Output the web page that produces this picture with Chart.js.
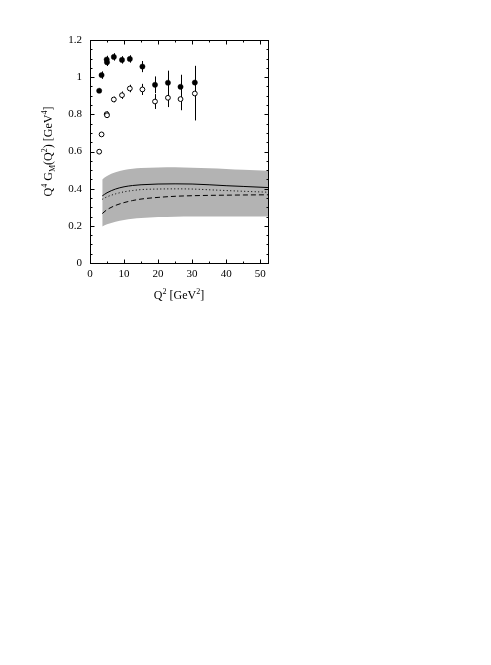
<!DOCTYPE html>
<html>
<head>
<meta charset="utf-8">
<script src="https://cdn.jsdelivr.net/npm/chart.js@4.4.1/dist/chart.umd.min.js"></script>
<style>
  html, body { margin: 0; padding: 0; background: #fff; }
  canvas { display: block; }
</style>
</head>
<body>
<canvas id="chart" width="491" height="665"></canvas>
<script>
// measured points (Q^2 in GeV^2)
const q2Data = [2.7, 3.4, 4.9, 5.0, 7.0, 9.4, 11.7, 15.4, 19.1, 22.9, 26.6, 30.8];
const filledVals = [0.927, 1.011, 1.095, 1.080, 1.109, 1.093, 1.098, 1.057, 0.959, 0.970, 0.948, 0.971];
const filledErr = [0.012, 0.02, 0.02, 0.02, 0.02, 0.02, 0.02, 0.03, 0.045, 0.065, 0.065, 0.09];
const openVals = [0.599, 0.692, 0.801, 0.795, 0.880, 0.903, 0.939, 0.934, 0.869, 0.889, 0.882, 0.912];
const openErr = [0.005, 0.01, 0.015, 0.015, 0.015, 0.02, 0.02, 0.03, 0.04, 0.05, 0.06, 0.145];

// theory curves
const q2Curve = [3.6, 5, 7.5, 10, 12.5, 15, 20, 25, 30, 35, 40, 45, 52.3];
const bandUpper = [0.450, 0.468, 0.488, 0.500, 0.507, 0.511, 0.514, 0.515, 0.513, 0.510, 0.506, 0.502, 0.497];
const bandLower = [0.197, 0.208, 0.222, 0.232, 0.238, 0.242, 0.247, 0.249, 0.250, 0.250, 0.250, 0.250, 0.250];
const solidCurve = [0.361, 0.378, 0.398, 0.410, 0.417, 0.421, 0.425, 0.426, 0.425, 0.421, 0.416, 0.412, 0.406];
const dottedCurve = [0.343, 0.356, 0.372, 0.383, 0.390, 0.395, 0.398, 0.399, 0.398, 0.394, 0.390, 0.386, 0.381];
const dashedCurve = [0.266, 0.287, 0.310, 0.325, 0.336, 0.344, 0.353, 0.359, 0.362, 0.364, 0.365, 0.366, 0.367];

const xMin = 0, xMax = 52.3;
const yMin = 0, yMax = 1.2;

const serif = "'Liberation Serif', 'DejaVu Serif', serif";
const ink = '#000';

function toXY(xs, ys) {
    return xs.map((x, i) => ({ x: x, y: ys[i] }));
}

function curve(ys, dash, extra) {
    return Object.assign({
        type: 'line',
        data: toXY(q2Curve, ys),
        borderColor: ink,
        borderWidth: 1,
        borderDash: dash,
        pointRadius: 0,
        fill: false,
        cubicInterpolationMode: 'monotone',
        order: 5
    }, extra || {});
}

// draws text with super/subscripts, centred on 0,0 (baseline)
function drawRich(ctx, parts, size) {
    const big = size + 'px ' + serif;
    const small = Math.round(size * 0.68) + 'px ' + serif;
    let total = 0;
    parts.forEach(p => {
        ctx.font = p.sup || p.sub ? small : big;
        total += ctx.measureText(p.t).width;
    });
    let x = -total / 2;
    parts.forEach(p => {
        ctx.font = p.sup || p.sub ? small : big;
        const dy = p.sup ? -size * 0.42 : (p.sub ? size * 0.25 : 0);
        ctx.fillText(p.t, x, dy);
        x += ctx.measureText(p.t).width;
    });
}

const xTitle = [{ t: 'Q' }, { t: '2', sup: true }, { t: ' [GeV' }, { t: '2', sup: true }, { t: ']' }];
const yTitle = [{ t: 'Q' }, { t: '4', sup: true }, { t: ' G' }, { t: 'M', sub: true }, { t: '(Q' },
    { t: '2', sup: true }, { t: ') [GeV' }, { t: '4', sup: true }, { t: ']' }];

const isMultiple = (v, step) => Math.abs(v / step - Math.round(v / step)) < 1e-6;

// frame, inward ticks, error bars and titles
const decorations = {
    id: 'decorations',
    beforeDatasetsDraw(chart) {
        const ctx = chart.ctx;
        const xs = chart.scales.x, ys = chart.scales.y;
        ctx.save();
        ctx.strokeStyle = ink;
        ctx.lineWidth = 1;
        const bars = (vals, errs) => {
            vals.forEach((v, i) => {
                const px = Math.round(xs.getPixelForValue(q2Data[i])) + 0.5;
                ctx.beginPath();
                ctx.moveTo(px, ys.getPixelForValue(v - errs[i]));
                ctx.lineTo(px, ys.getPixelForValue(v + errs[i]));
                ctx.stroke();
            });
        };
        bars(openVals, openErr);
        bars(filledVals, filledErr);
        ctx.restore();
    },
    afterDraw(chart) {
        const ctx = chart.ctx;
        const a = chart.chartArea;
        const xs = chart.scales.x, ys = chart.scales.y;
        ctx.save();
        ctx.strokeStyle = ink;
        ctx.lineWidth = 1;
        const L = Math.round(a.left) + 0.5, R = Math.round(a.right) + 0.5;
        const T = Math.round(a.top) + 0.5, B = Math.round(a.bottom) + 0.5;
        ctx.strokeRect(L, T, R - L, B - T);
        ctx.beginPath();
        xs.ticks.forEach(t => {
            const px = Math.round(xs.getPixelForValue(t.value)) + 0.5;
            const len = isMultiple(t.value, 10) ? 4 : 2;
            ctx.moveTo(px, B); ctx.lineTo(px, B - len);
            ctx.moveTo(px, T); ctx.lineTo(px, T + len);
        });
        ys.ticks.forEach(t => {
            const py = Math.round(ys.getPixelForValue(t.value)) + 0.5;
            const len = isMultiple(t.value, 0.2) ? 4 : 2;
            ctx.moveTo(L, py); ctx.lineTo(L + len, py);
            ctx.moveTo(R, py); ctx.lineTo(R - len, py);
        });
        ctx.stroke();

        ctx.fillStyle = ink;
        ctx.textBaseline = 'alphabetic';
        ctx.save();
        ctx.translate((a.left + a.right) / 2, 299);
        drawRich(ctx, xTitle, 12);
        ctx.restore();
        ctx.save();
        ctx.translate(52, (a.top + a.bottom) / 2);
        ctx.rotate(-Math.PI / 2);
        drawRich(ctx, yTitle, 12);
        ctx.restore();
        ctx.restore();
    }
};

new Chart(document.getElementById('chart'), {
    type: 'scatter',
    data: {
        datasets: [
            {
                data: toXY(q2Data, filledVals),
                pointRadius: 2.6,
                pointBackgroundColor: ink,
                pointBorderColor: ink,
                pointBorderWidth: 0.5,
                order: 0
            },
            {
                data: toXY(q2Data, openVals),
                pointRadius: 2.4,
                pointBackgroundColor: '#fff',
                pointBorderColor: ink,
                pointBorderWidth: 1,
                order: 1
            },
            curve(solidCurve, []),
            curve(dottedCurve, [1, 2.5]),
            curve(dashedCurve, [5, 3]),
            curve(bandUpper, [], { borderWidth: 0, borderColor: 'rgba(0,0,0,0)', backgroundColor: '#b3b3b3', fill: '+1', order: 10 }),
            curve(bandLower, [], { borderWidth: 0, borderColor: 'rgba(0,0,0,0)', order: 11 })
        ]
    },
    options: {
        responsive: false,
        animation: false,
        events: [],
        layout: { padding: { left: 0, top: 40, right: 223, bottom: 342 } },
        plugins: {
            legend: { display: false },
            tooltip: { enabled: false }
        },
        scales: {
            x: {
                type: 'linear',
                min: xMin,
                max: xMax,
                afterFit: s => { s.height = 60; },
                grid: { display: false, drawTicks: false },
                border: { display: false },
                ticks: {
                    stepSize: 5,
                    includeBounds: false,
                    autoSkip: false,
                    maxRotation: 0,
                    padding: 5,
                    color: ink,
                    font: { family: serif, size: 11 },
                    callback: v => isMultiple(v, 10) ? String(Math.round(v)) : ''
                }
            },
            y: {
                type: 'linear',
                min: yMin,
                max: yMax,
                afterFit: s => { s.width = 90; },
                grid: { display: false, drawTicks: false },
                border: { display: false },
                ticks: {
                    stepSize: 0.05,
                    autoSkip: false,
                    padding: 8,
                    color: ink,
                    font: { family: serif, size: 11 },
                    callback: v => isMultiple(v, 0.2) ? String(Math.round(v * 10) / 10) : ''
                }
            }
        }
    },
    plugins: [decorations]
});
</script>
</body>
</html>
